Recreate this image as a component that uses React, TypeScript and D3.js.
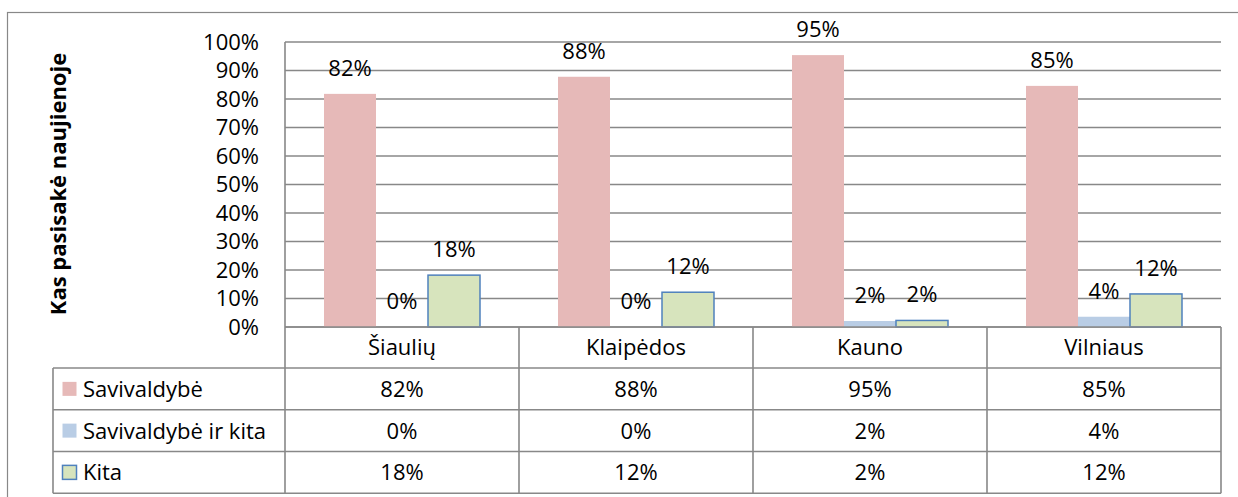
import React from "react";
import * as d3 from "d3";

const categories = ["Šiaulių", "Klaipėdos", "Kauno", "Vilniaus"];
const seriesNames = ["Savivaldybė", "Savivaldybė ir kita", "Kita"];
const savivaldybe = [0.818, 0.878, 0.954, 0.846];
const savivaldybeIrKita = [0, 0, 0.021, 0.036];
const kita = [0.182, 0.122, 0.023, 0.116];
const yTicks = [0, 0.1, 0.2, 0.3, 0.4, 0.5, 0.6, 0.7, 0.8, 0.9, 1.0];
const yTitle = "Kas pasisakė naujienoje";

const seriesValues = [savivaldybe, savivaldybeIrKita, kita];
const fills = ["#E6B9B8", "#B9CDE5", "#D7E4BD"];
const strokes = ["none", "none", "#4F81BD"];

const W = 1238;
const H = 497;
const plotL = 285;
const plotR = 1221;
const plotT = 42;
const plotB = 327;
const tableL = 53;
const headerB = 368;
const rowH = 41.75;
const gridColor = "#888888";
const font = "'Open Sans', 'DejaVu Sans', sans-serif";
const fs = 22;

export default function App() {
  const x = d3.scaleBand<string>().domain(categories).range([plotL, plotR]).paddingInner(0).paddingOuter(0);
  const xi = d3
    .scaleBand<string>()
    .domain(seriesNames)
    .range([0, x.bandwidth()])
    .paddingInner(0)
    .paddingOuter(0.75);
  const y = d3.scaleLinear().domain([0, 1]).range([plotB, plotT]);
  const fmt = d3.format(".0%");
  const rowTop = (i: number) => headerB + i * rowH;
  const tableB = rowTop(seriesNames.length);

  return (
    <div style={{ position: "absolute", left: 0, top: 0 }}>
      <svg width={W} height={H} style={{ display: "block", background: "#fff" }}>
        <rect x={7.5} y={12.5} width={1260} height={520} fill="#fff" stroke={gridColor} strokeWidth={1.2} />
        {/* gridlines */}
        {yTicks.map((t) => (
          <line key={"g" + t} x1={plotL} x2={plotR} y1={y(t)} y2={y(t)} stroke={gridColor} strokeWidth={1.4} />
        ))}
        {/* tick labels */}
        {yTicks.map((t) => (
          <text
            key={"t" + t}
            x={259}
            y={y(t) + 7.5}
            textAnchor="end"
            fontFamily={font}
            fontSize={fs}
            fill="#000"
          >
            {fmt(t)}
          </text>
        ))}
        {/* bars */}
        {seriesNames.map((s, si) =>
          categories.map((c, ci) => {
            const v = seriesValues[si][ci];
            const bx = (x(c) as number) + (xi(s) as number);
            return (
              <rect
                key={s + c}
                x={bx}
                y={y(v)}
                width={xi.bandwidth()}
                height={plotB - y(v)}
                fill={fills[si]}
                stroke={strokes[si]}
                strokeWidth={strokes[si] === "none" ? 0 : 1.5}
              />
            );
          })
        )}
        {/* data labels */}
        {seriesNames.map((s, si) =>
          categories.map((c, ci) => {
            const v = seriesValues[si][ci];
            const cx = (x(c) as number) + (xi(s) as number) + xi.bandwidth() / 2;
            return (
              <text
                key={"l" + s + c}
                x={cx}
                y={y(v) - 18}
                textAnchor="middle"
                fontFamily={font}
                fontSize={fs}
                fill="#000"
              >
                {fmt(v)}
              </text>
            );
          })
        )}
        {/* axis lines */}
        <line x1={plotL} x2={plotR} y1={plotB} y2={plotB} stroke={gridColor} strokeWidth={1.6} />
        <line x1={plotL} x2={plotL} y1={plotT} y2={tableB} stroke={gridColor} strokeWidth={1.6} />
        {/* table verticals */}
        {categories.map((c) => (
          <line
            key={"v" + c}
            x1={(x(c) as number) + x.bandwidth()}
            x2={(x(c) as number) + x.bandwidth()}
            y1={plotB}
            y2={tableB}
            stroke={gridColor}
            strokeWidth={1.6}
          />
        ))}
        <line x1={tableL} x2={tableL} y1={headerB} y2={tableB} stroke={gridColor} strokeWidth={1.6} />
        {/* table horizontals */}
        {[0, 1, 2, 3].map((i) => (
          <line key={"h" + i} x1={tableL} x2={plotR} y1={rowTop(i)} y2={rowTop(i)} stroke={gridColor} strokeWidth={1.6} />
        ))}
        {/* header labels */}
        {categories.map((c) => (
          <text
            key={"c" + c}
            x={(x(c) as number) + x.bandwidth() / 2}
            y={(plotB + headerB) / 2 + 7.5}
            textAnchor="middle"
            fontFamily={font}
            fontSize={fs}
            fill="#000"
          >
            {c}
          </text>
        ))}
        {/* table rows */}
        {seriesNames.map((s, si) => {
          const mid = rowTop(si) + rowH / 2;
          return (
            <g key={"r" + s}>
              <rect
                x={62.5}
                y={mid - 7}
                width={14}
                height={14}
                fill={fills[si]}
                stroke={strokes[si]}
                strokeWidth={strokes[si] === "none" ? 0 : 1.5}
              />
              <text x={83} y={mid + 8} fontFamily={font} fontSize={fs} fill="#000">
                {s}
              </text>
              {categories.map((c, ci) => (
                <text
                  key={"cell" + c}
                  x={(x(c) as number) + x.bandwidth() / 2}
                  y={mid + 8}
                  textAnchor="middle"
                  fontFamily={font}
                  fontSize={fs}
                  fill="#000"
                >
                  {fmt(seriesValues[si][ci])}
                </text>
              ))}
            </g>
          );
        })}
        {/* y title */}
        <text
          transform={`translate(66, ${184}) rotate(-90)`}
          textAnchor="middle"
          fontFamily={font}
          fontSize={22}
          fontWeight="bold"
          fill="#000"
        >
          {yTitle}
        </text>
      </svg>
    </div>
  );
}
